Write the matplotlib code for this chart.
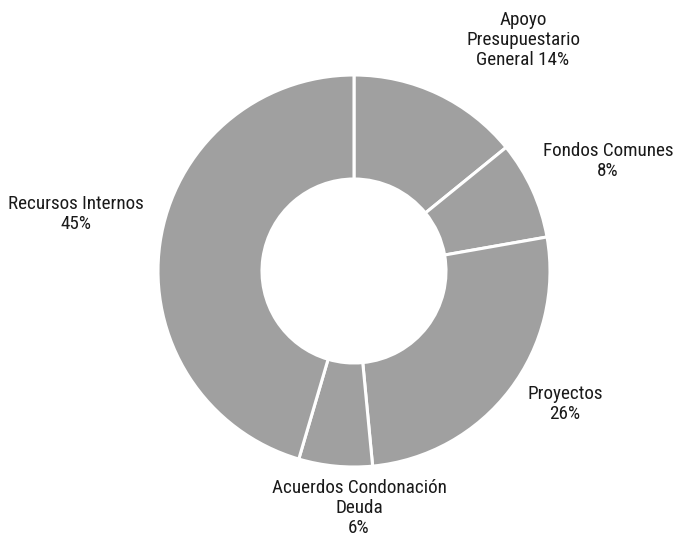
import matplotlib.pyplot as plt
from matplotlib import font_manager

# === Data ===
labels = ["Apoyo\nPresupuestario\nGeneral 14%", "Fondos Comunes\n8%", "Proyectos\n26%",
          "Acuerdos Condonación\nDeuda\n6%", "Recursos Internos\n45%"]
shares = [14, 8, 26, 6, 45]

# label anchor points (pixels, origin bottom-left)
label_pos = [(523, 498), (608, 377), (565, 134), (359, 30), (76, 324)]

# prefer a narrow sans if one is around
names = {f.name for f in font_manager.fontManager.ttflist}
wanted = ["Roboto Condensed", "Open Sans Condensed", "Liberation Sans Narrow", "Liberation Sans"]
family = [f for f in wanted if f in names][:1] or ["DejaVu Sans"]
plt.rcParams["font.family"] = family + ["DejaVu Sans"]

fig = plt.figure(figsize=(6.74, 5.38), dpi=100)
ax = fig.add_axes([0, 0, 1, 1])
ax.set_xlim(0, 674)
ax.set_ylim(0, 538)
ax.set_aspect("equal")
ax.axis("off")

ax.pie(shares, center=(354, 267), radius=196, startangle=90, counterclock=False,
       colors=["#a0a0a0"] * len(shares),
       wedgeprops=dict(width=104, edgecolor="white", linewidth=2.2))

for lab, (x, y) in zip(labels, label_pos):
    ax.text(x, y, lab, ha="center", va="center", fontsize=13.8, color="#1a1a1a",
            linespacing=1.12)

ax.set_xlim(0, 674)
ax.set_ylim(0, 538)
fig.savefig("out.png", dpi=100)
